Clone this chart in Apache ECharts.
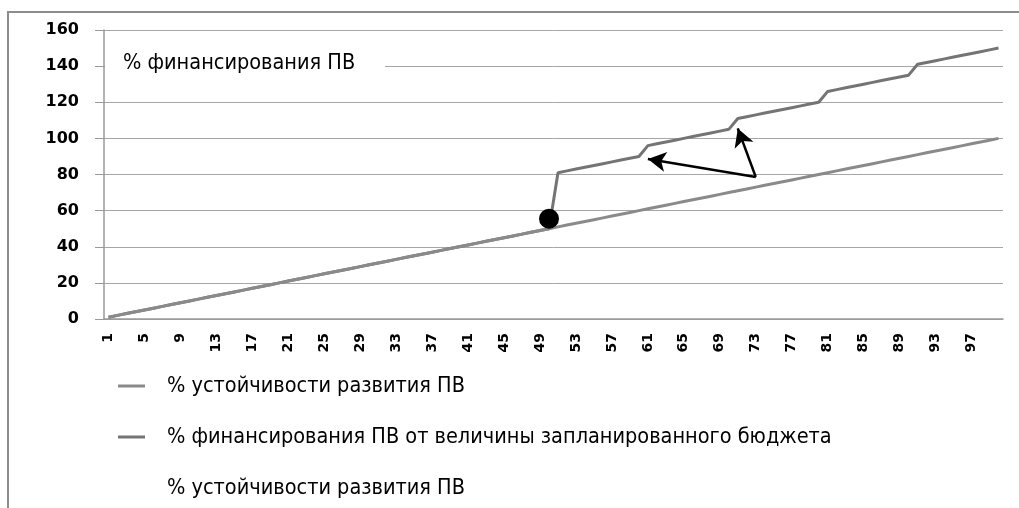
<!DOCTYPE html>
<html>
<head>
<meta charset="utf-8">
<script src="https://cdn.jsdelivr.net/npm/echarts@6/dist/echarts.min.js"></script>
<style>html,body{margin:0;padding:0;background:#fff}#c{width:1019px;height:508px}</style>
</head>
<body>
<div id="c"></div>
<script>
// ---- data ----
var categories = ['1','2','3','4','5','6','7','8','9','10','11','12','13','14','15','16','17','18','19','20',
'21','22','23','24','25','26','27','28','29','30','31','32','33','34','35','36','37','38','39','40',
'41','42','43','44','45','46','47','48','49','50','51','52','53','54','55','56','57','58','59','60',
'61','62','63','64','65','66','67','68','69','70','71','72','73','74','75','76','77','78','79','80',
'81','82','83','84','85','86','87','88','89','90','91','92','93','94','95','96','97','98','99','100'];
var sustainability = [1,2,3,4,5,6,7,8,9,10,11,12,13,14,15,16,17,18,19,20,
21,22,23,24,25,26,27,28,29,30,31,32,33,34,35,36,37,38,39,40,
41,42,43,44,45,46,47,48,49,50,51,52,53,54,55,56,57,58,59,60,
61,62,63,64,65,66,67,68,69,70,71,72,73,74,75,76,77,78,79,80,
81,82,83,84,85,86,87,88,89,90,91,92,93,94,95,96,97,98,99,100];
var financing = [1,2,3,4,5,6,7,8,9,10,11,12,13,14,15,16,17,18,19,20,
21,22,23,24,25,26,27,28,29,30,31,32,33,34,35,36,37,38,39,40,
41,42,43,44,45,46,47,48,49,50,81,82,83,84,85,86,87,88,89,90,
96,97,98,99,100,101,102,103,104,105,111,112,113,114,115,116,117,118,119,120,
126,127,128,129,130,131,132,133,134,135,141,142,143,144,145,146,147,148,149,150];
var markerPoint = [['50', 55.5]];
var yTicks = {min: 0, max: 160, interval: 20};
var seriesNames = ['% устойчивости развития ПВ', '% финансирования ПВ от величины запланированного бюджета', '% устойчивости развития ПВ '];
var insideTitle = '% финансирования ПВ';
var arrowTail = ['73', 78.6];
var arrowHeads = [['61', 88.6], ['71', 105.5]];

var chart = echarts.init(document.getElementById('c'));
var gray1 = '#8a8a8a', gray2 = '#747474';
var narrow = '"DejaVu Sans Condensed", "Liberation Sans", sans-serif';
chart.setOption({
  animation: false,
  grid: {left: 104, right: 16, top: 30, bottom: 189},
  graphic: [
    {type: 'rect', shape: {x: 8, y: 12, width: 1040, height: 520}, style: {fill: 'none', stroke: '#8c8c8c', lineWidth: 2}, silent: true, z: 0},
    {type: 'rect', shape: {x: 105, y: 32, width: 280, height: 53}, style: {fill: '#fff'}, z: 5},
    {type: 'text', x: 123, y: 63, style: {text: insideTitle, fill: '#000', fontFamily: narrow, fontSize: 21.5, textVerticalAlign: 'middle'}, z: 6}
  ],
  legend: {
    orient: 'vertical', left: 118, top: 373, padding: 0, itemGap: 25, itemWidth: 27, itemHeight: 3,
    textStyle: {fontFamily: narrow, fontSize: 21.5, lineHeight: 26, color: '#000', padding: [0, 0, 0, 17]},
    data: [
      {name: seriesNames[0], icon: 'rect'},
      {name: seriesNames[1], icon: 'rect'},
      {name: seriesNames[2], icon: 'rect', itemStyle: {color: 'rgba(0,0,0,0)', borderWidth: 0}}
    ]
  },
  xAxis: {
    type: 'category', data: categories, boundaryGap: true,
    axisLine: {lineStyle: {color: '#999', width: 1.5}},
    axisTick: {interval: 0, length: 4, lineStyle: {color: '#999'}},
    axisLabel: {interval: 3, rotate: 90, margin: 14, color: '#000', fontFamily: 'DejaVu Sans', fontWeight: 'bold', fontSize: 14}
  },
  yAxis: {
    type: 'value', min: yTicks.min, max: yTicks.max, interval: yTicks.interval,
    axisLine: {show: true, lineStyle: {color: '#999', width: 1.5}},
    axisTick: {show: true, length: 9, lineStyle: {color: '#999'}},
    splitLine: {lineStyle: {color: '#a6a6a6', width: 1}},
    axisLabel: {margin: 25, color: '#000', fontFamily: 'DejaVu Sans', fontWeight: 'bold', fontSize: 16}
  },
  series: [
    {name: seriesNames[0], type: 'line', data: sustainability, symbol: 'none', lineStyle: {color: gray1, width: 3}, itemStyle: {color: gray1}, z: 3},
    {name: seriesNames[1], type: 'line', data: financing, symbol: 'none', lineStyle: {color: gray2, width: 3}, itemStyle: {color: gray2}, z: 2,
      markLine: {
        silent: true, symbol: ['none', 'arrow'], symbolSize: [15, 18], label: {show: false},
        lineStyle: {color: '#000', width: 2.5, type: 'solid'},
        data: arrowHeads.map(function (h) { return [{coord: arrowTail}, {coord: h}]; })
      }
    },
    {name: seriesNames[2], type: 'scatter', data: markerPoint, symbol: 'circle', symbolSize: 20, itemStyle: {color: '#000', opacity: 1}, z: 4}
  ]
});
</script>
</body>
</html>
